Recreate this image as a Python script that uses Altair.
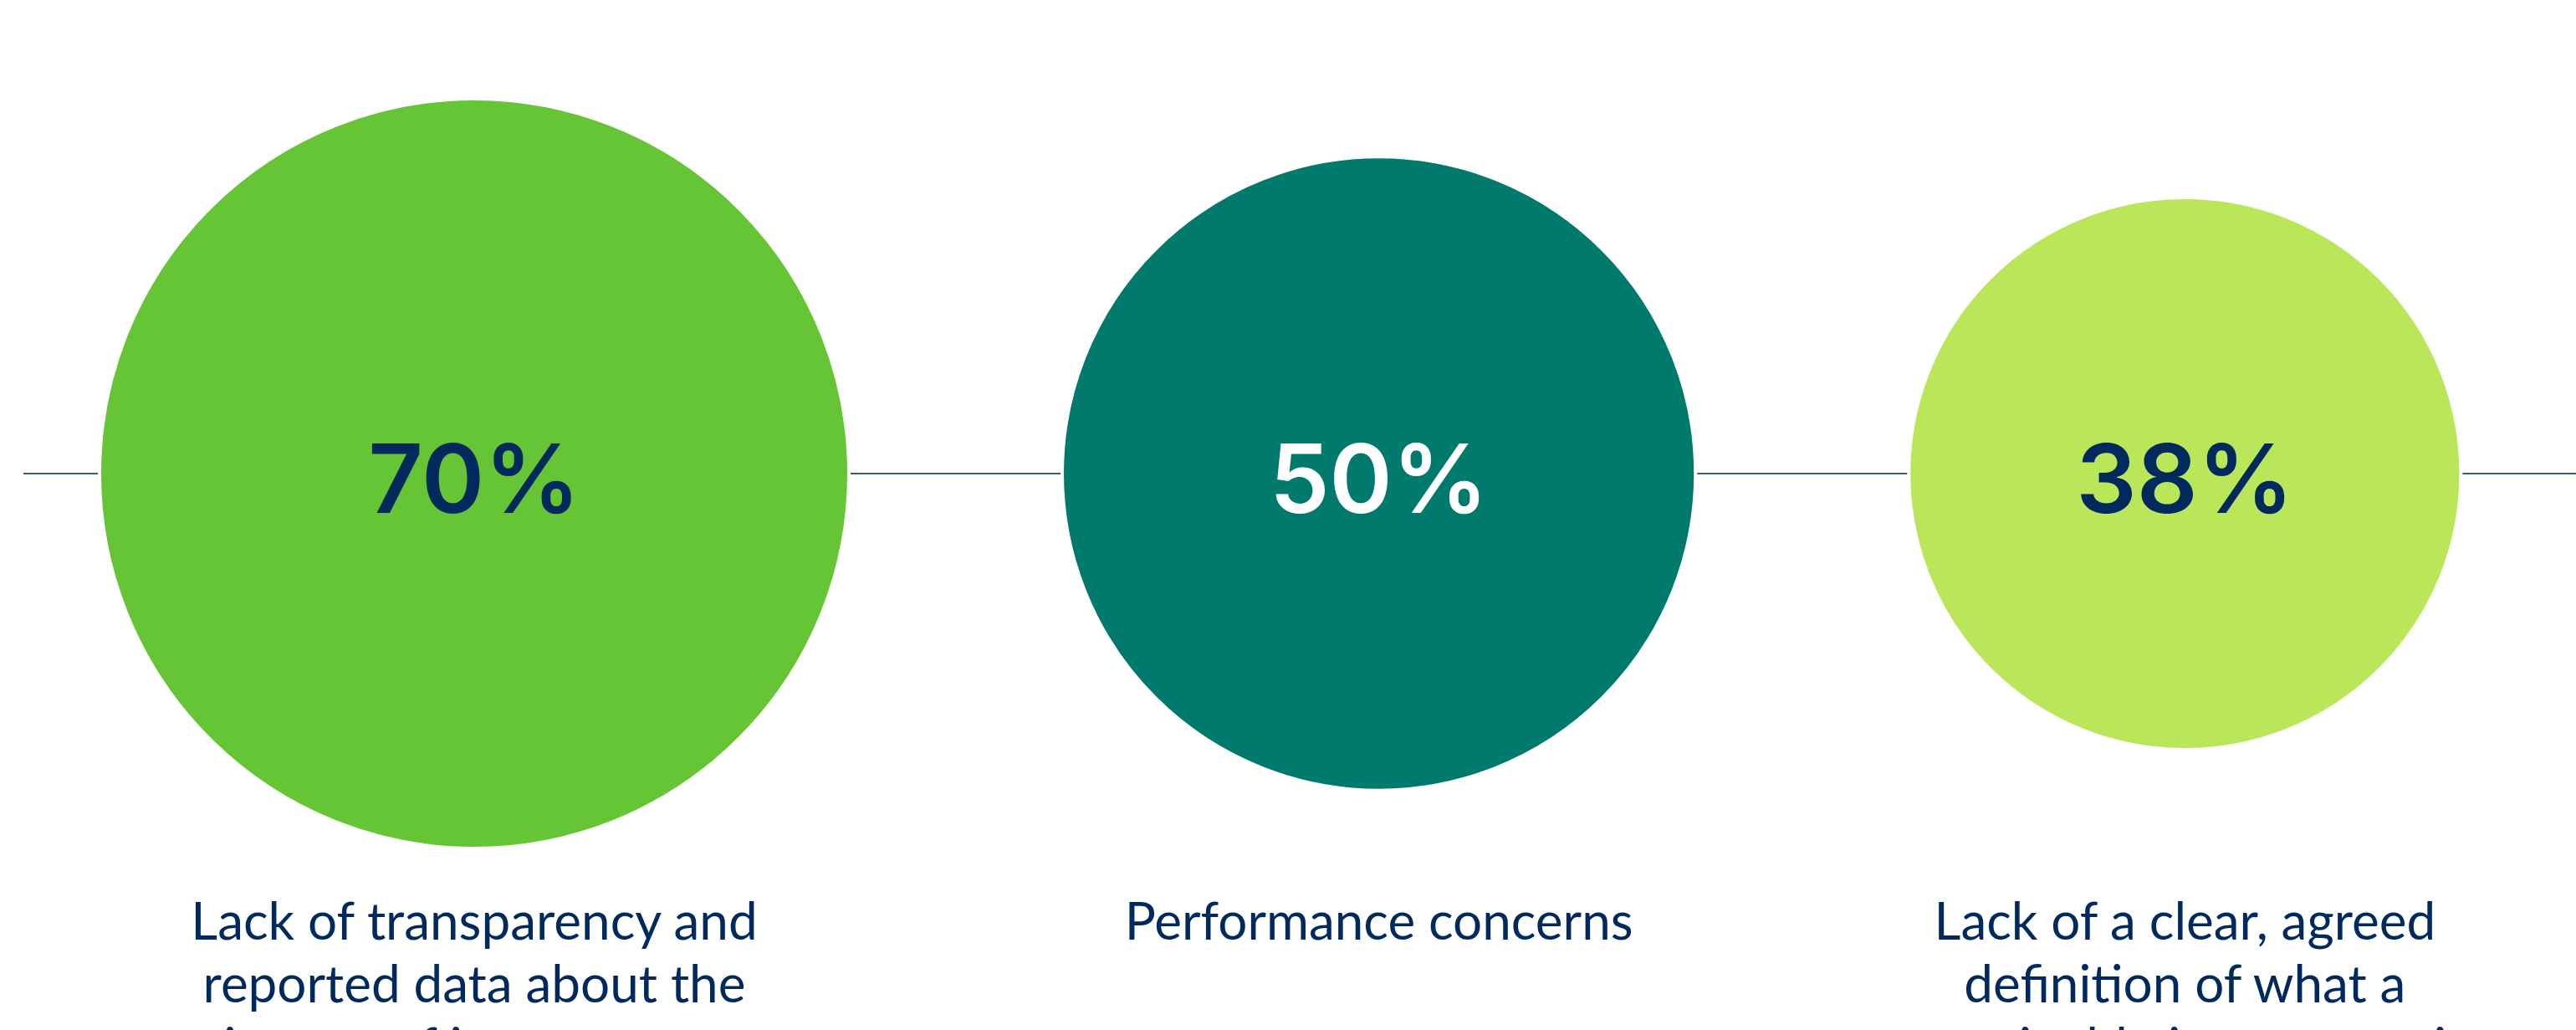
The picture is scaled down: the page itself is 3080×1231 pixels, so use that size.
import altair as alt
import pandas as pd

# ---- data ----
values = [70, 50, 38]
pct_labels = ["70%", "50%", "38%"]
descriptions = [
    "Lack of transparency and\nreported data about the\nimpact of investments",
    "Performance concerns",
    "Lack of a clear, agreed\ndefinition of what a\nsustainable investment is",
]
fill_colors = ["#66C534", "#007A6C", "#BAE65A"]
pct_colors = ["#00295E", "#FFFFFF", "#00295E"]

# ---- layout constants ----
W, H = 3080, 1231
CY = 566
R_MAX = 448          # symbol radius for the largest value (incl. half white stroke)
LEFT = 119
GAP = 255
NAVY = "#00295E"

df = pd.DataFrame({
    "order": [1, 2, 3],
    "value": values,
    "pct": pct_labels,
    "desc": descriptions,
    "fill": fill_colors,
    "tcolor": pct_colors,
})

base = (
    alt.Chart(df)
    .transform_calculate(d=f"2*{R_MAX}*sqrt(datum.value/70)")
    .transform_window(cum="sum(d)", idx="row_number()", sort=[alt.SortField("order")])
    .transform_calculate(cx=f"{LEFT} + datum.cum - datum.d/2 + {GAP}*(datum.idx-1)")
)

xenc = alt.X("cx:Q", scale=alt.Scale(domain=[0, W], nice=False, zero=False), axis=None)

line = alt.Chart(pd.DataFrame({"a": [0]})).mark_rule(
    color="#3A5683", strokeWidth=2
).encode(x=alt.value(28), x2=alt.value(W), y=alt.value(CY))

circles = base.mark_circle(opacity=1, stroke="white", strokeWidth=4).encode(
    x=xenc,
    y=alt.value(CY),
    size=alt.Size("value:Q", scale=alt.Scale(domain=[0, 70], range=[0, (2 * R_MAX) ** 2]), legend=None),
    color=alt.Color("fill:N", scale=None),
)

pct = base.mark_text(
    font="Inter", fontSize=114, fontWeight=600, align="center", baseline="alphabetic"
).encode(
    x=xenc,
    y=alt.value(613),
    text="pct:N",
    color=alt.Color("tcolor:N", scale=None),
)

desc = base.mark_text(
    font="Lato", fontSize=62, align="center", baseline="alphabetic",
    lineBreak="\n", lineHeight=75, color=NAVY, clip=True,
).encode(
    x=xenc,
    y=alt.value(1123),
    text="desc:N",
)

chart = (
    alt.layer(line, circles, pct, desc)
    .properties(width=W, height=H, padding=0, autosize=alt.AutoSizeParams(type="none"), background="white")
    .configure_view(stroke=None)
)

chart.save("out.html", embed_options={"renderer": "svg", "actions": False})
